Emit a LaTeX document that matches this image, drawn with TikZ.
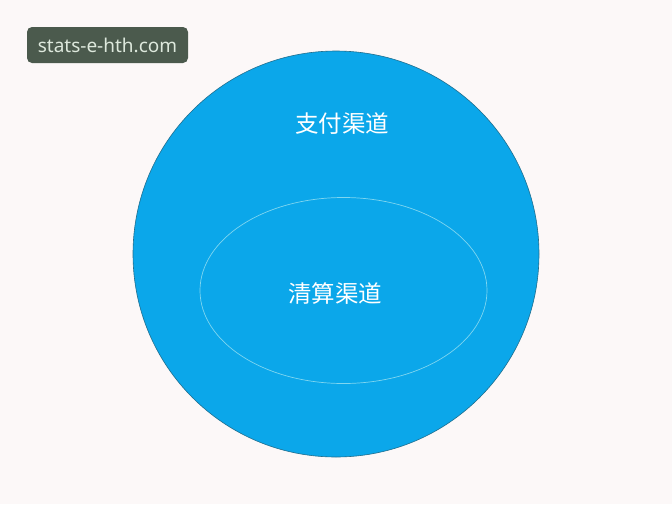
\documentclass[tikz,border=0pt]{standalone}
\usepackage{fontspec}
\usetikzlibrary{shapes.geometric}
\setmainfont{Noto Sans}
\newfontfamily\cjk{Noto Sans CJK SC}
\definecolor{bg}{HTML}{FCF8F8}
\definecolor{blueF}{HTML}{0BA7EA}
\definecolor{blueD}{HTML}{1F6E8E}
\definecolor{tagbg}{HTML}{4B5A4D}
\definecolor{tagfg}{HTML}{DDE8DC}
\definecolor{ringc}{HTML}{7FD6F0}
\tikzset{
  lbl/.style={text=white,font=\cjk\fontsize{23.5}{28}\selectfont,inner sep=0pt},
  tag/.style={fill=tagbg,text=tagfg,rounded corners=5pt,font=\fontsize{19}{22}\selectfont,minimum width=161pt,minimum height=36pt,inner sep=0pt}
}
\begin{document}
\begin{tikzpicture}[x=1pt,y=-1pt]
\useasboundingbox[fill=bg] (0,0) rectangle (672,504);
\draw[blueD,fill=blueF,line width=0.6pt] (336,254) circle[radius=203];
\node[draw=ringc,line width=0.7pt,ellipse,minimum width=287pt,minimum height=186pt,inner sep=0pt] (inner) at (343.5,290.5) {};
\node[lbl] (outerlbl) at (342,124) {支付渠道};
\node[lbl] (innerlbl) at (335,294) {清算渠道};
\node[tag] (tagn) at (107.5,45) {stats-e-hth.com};
\end{tikzpicture}
\end{document}
